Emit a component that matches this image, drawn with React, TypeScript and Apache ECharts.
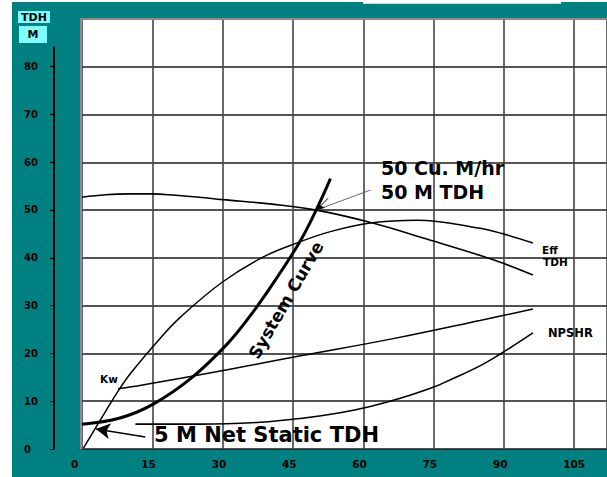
import React, { useEffect, useRef } from "react";
import * as echarts from "echarts";

// ---- data (flow in Cu. M/hr, head in M) ----
const xTicks = [0, 15, 30, 45, 60, 75, 90, 105];
const yTicks = [0, 10, 20, 30, 40, 50, 60, 70, 80];

const tdhCurve: [number, number][] = [
  [0, 52.7], [5, 53.2], [10, 53.4], [15, 53.4], [20, 53.1], [25, 52.7], [30, 52.2],
  [40, 51.3], [50, 50.0], [62, 47.3], [74, 43.8], [85, 40.5], [90, 38.8], [96.2, 36.4],
];
const effCurve: [number, number][] = [
  [0.3, 0.2], [3.5, 5.4], [7.7, 12.1], [10.5, 16.0], [16.7, 23.2], [21.0, 27.6],
  [29.9, 34.9], [38.7, 40.2], [46.6, 43.4], [53.0, 45.5], [61.5, 47.3], [71.5, 47.9],
  [84.9, 46.2], [89.6, 45.1], [96.2, 43.1],
];
const kwCurve: [number, number][] = [
  [7.7, 12.6], [12.9, 13.4], [31.0, 16.6], [46.6, 19.5], [66.4, 23.1], [84.9, 26.9], [96.2, 29.3],
];
const npshrCurve: [number, number][] = [
  [11.4, 5.2], [25.2, 5.2], [38.0, 5.6], [46.6, 6.4], [55.1, 7.6], [61.5, 8.9], [67.9, 10.6],
  [74.9, 12.9], [78.8, 14.6], [84.9, 17.4], [89.6, 20.1], [96.2, 24.3],
];
const systemCurve: [number, number][] = [
  [0, 5.2], [8.1, 6.5], [15.2, 9.4], [23.5, 15.0], [31.0, 22.0], [35.9, 27.9],
  [41.2, 35.3], [46.6, 43.6], [50, 50.1], [53.0, 56.6],
];
const dutyPoint: [number, number] = [50, 50];
const dutyLabelAnchor: [number, number] = [61.5, 54.2];
const staticHeadPoint: [number, number] = [3.0, 4.2];
const staticLabelAnchor: [number, number] = [13.5, 2.5];

const FONT = "DejaVu Sans";

export default function App() {
  const ref = useRef<HTMLDivElement>(null);

  useEffect(() => {
    document.body.style.margin = "0";
    if (!ref.current) return;
    const chart = echarts.init(ref.current, undefined, { renderer: "svg" });

    const curve = (name: string, data: [number, number][], width: number) => ({
      type: "line",
      name,
      data,
      xAxisIndex: 0,
      yAxisIndex: 0,
      smooth: 0.4,
      symbol: "none",
      showSymbol: false,
      silent: true,
      lineStyle: { color: "#000", width },
      z: 5,
    });

    const option: any = {
      animation: false,
      backgroundColor: "transparent",
      grid: [
        { left: 82, right: 0, top: 19, bottom: 28, show: true, backgroundColor: "#fff", borderWidth: 0 },
        { left: 54, width: 1, top: 47, bottom: 28 },
      ],
      xAxis: [
        {
          type: "value",
          gridIndex: 0,
          min: 0,
          max: 112,
          interval: 15,
          axisLine: { show: false },
          axisTick: { show: false },
          splitLine: { show: true, lineStyle: { color: "#444", width: 1.6 } },
          axisLabel: {
            customValues: xTicks,
            margin: 9,
            formatter: (v: number) => "{a|" + v + "}",
            rich: {
              a: { width: 22, align: "left", fontFamily: FONT, fontWeight: "bold", fontSize: 10.5, color: "#000" },
            },
          },
        },
        { type: "value", gridIndex: 1, min: 0, max: 1, show: false },
      ],
      yAxis: [
        {
          type: "value",
          gridIndex: 0,
          min: 0,
          max: 90,
          interval: 10,
          axisLine: { show: false },
          axisTick: { show: false },
          axisLabel: { show: false },
          splitLine: { show: true, lineStyle: { color: "#1a1a1a", width: 1.5 } },
        },
        {
          type: "value",
          gridIndex: 1,
          min: 0,
          max: 84.1,
          interval: 10,
          axisLine: { show: true, onZero: false, lineStyle: { color: "#000", width: 2 } },
          axisTick: { show: true, customValues: yTicks, length: 4, lineStyle: { color: "#000", width: 1 } },
          splitLine: { show: false },
          axisLabel: {
            customValues: yTicks,
            align: "left",
            margin: 30,
            fontFamily: FONT,
            fontWeight: "bold",
            fontSize: 10,
            color: "#000",
          },
        },
      ],
      series: [
        curve("TDH", tdhCurve, 1.6),
        curve("Eff", effCurve, 1.5),
        curve("Kw", kwCurve, 1.5),
        curve("NPSHR", npshrCurve, 1.6),
        {
          ...curve("System Curve", systemCurve, 3),
          markLine: {
            silent: true,
            symbol: ["none", "arrow"],
            symbolSize: [12, 14],
            label: { show: false },
            lineStyle: { color: "#000", width: 1.5, type: "solid" },
            data: [[{ coord: staticLabelAnchor }, { coord: staticHeadPoint }]],
          },
        },
        {
          type: "line",
          name: "duty",
          data: [dutyPoint, dutyLabelAnchor],
          symbol: "none",
          silent: true,
          lineStyle: { color: "#666", width: 1 },
          z: 4,
          markLine: {
            silent: true,
            symbol: ["none", "arrow"],
            symbolSize: [7, 8],
            label: { show: false },
            lineStyle: { color: "#000", width: 1, type: "solid" },
            data: [[{ coord: [52.5, 52.5] }, { coord: dutyPoint }]],
          },
        },
      ],
      graphic: [
        { type: "line", shape: { x1: 81, y1: 19, x2: 81, y2: 449 }, style: { stroke: "#8c8c8c", lineWidth: 2 }, z: 10 },
        { type: "line", shape: { x1: 80, y1: 19, x2: 607, y2: 19 }, style: { stroke: "#8c8c8c", lineWidth: 2 }, z: 10 },
        { type: "rect", shape: { x: 18, y: 11, width: 32, height: 12 }, style: { fill: "#80ffff" } },
        { type: "rect", shape: { x: 19, y: 26, width: 28, height: 17 }, style: { fill: "#80ffff" } },
        {
          type: "text", x: 34, y: 17.5,
          style: { text: "TDH", fontFamily: FONT, fontWeight: "bold", fontSize: 11, fill: "#000", align: "center", verticalAlign: "middle" },
        },
        {
          type: "text", x: 33, y: 34.5,
          style: { text: "M", fontFamily: FONT, fontWeight: "bold", fontSize: 11, fill: "#000", align: "center", verticalAlign: "middle" },
        },
        {
          type: "text", x: 381, y: 168, z: 20,
          style: { text: "50 Cu. M/hr", fontFamily: FONT, fontWeight: "bold", fontSize: 19, fill: "#000", align: "left", verticalAlign: "middle" },
        },
        {
          type: "text", x: 381, y: 192, z: 20,
          style: { text: "50 M TDH", fontFamily: FONT, fontWeight: "bold", fontSize: 19, fill: "#000", align: "left", verticalAlign: "middle" },
        },
        {
          type: "text", x: 154, y: 435, z: 20,
          style: { text: "5 M Net Static TDH", fontFamily: FONT, fontWeight: "bold", fontSize: 21, fill: "#000", align: "left", verticalAlign: "middle" },
        },
        {
          type: "text", x: 286, y: 300, rotation: (60 * Math.PI) / 180, z: 20,
          style: { text: "System Curve", fontFamily: FONT, fontWeight: "bold", fontSize: 17, fill: "#000", align: "center", verticalAlign: "middle" },
        },
        {
          type: "text", x: 542, y: 250, z: 20,
          style: { text: "Eff", fontFamily: FONT, fontWeight: "bold", fontSize: 10.5, fill: "#000", align: "left", verticalAlign: "middle" },
        },
        {
          type: "text", x: 543, y: 262, z: 20,
          style: { text: "TDH", fontFamily: FONT, fontWeight: "bold", fontSize: 10.5, fill: "#000", align: "left", verticalAlign: "middle" },
        },
        {
          type: "text", x: 548, y: 333, z: 20,
          style: { text: "NPSHR", fontFamily: FONT, fontWeight: "bold", fontSize: 11.5, fill: "#000", align: "left", verticalAlign: "middle" },
        },
        {
          type: "text", x: 100, y: 379, z: 20,
          style: { text: "Kw", fontFamily: FONT, fontWeight: "bold", fontSize: 10.5, fill: "#000", align: "left", verticalAlign: "middle" },
        },
      ],
    };

    chart.setOption(option);
    return () => chart.dispose();
  }, []);

  return (
    <div style={{ position: "fixed", left: 0, top: 0, width: 607, height: 477, background: "#fff", overflow: "hidden" }}>
      <div style={{ position: "absolute", left: 12, top: 2, right: 0, bottom: 0, background: "#008080" }} />
      <div style={{ position: "absolute", left: 363, top: 0, width: 198, height: 3, background: "#fff", borderBottom: "1px solid #d8d8d0" }} />
      <div ref={ref} style={{ position: "absolute", left: 0, top: 0, width: 607, height: 477 }} />
    </div>
  );
}
